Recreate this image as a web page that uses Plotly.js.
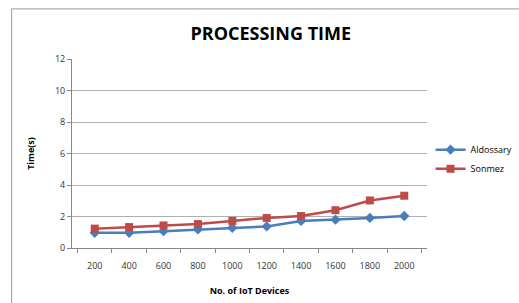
<!DOCTYPE html>
<html>
<head>
<meta charset="utf-8">
<script src="https://cdn.plot.ly/plotly-3.0.1.min.js"></script>
<style>html,body{margin:0;padding:0;background:#fff;}#chart{width:519px;height:303px;}</style>
</head>
<body>
<div id="chart"></div>
<script>
const devices = ["200","400","600","800","1000","1200","1400","1600","1800","2000"];
const aldossary = [0.97, 0.97, 1.07, 1.18, 1.29, 1.37, 1.72, 1.8, 1.91, 2.03];
const sonmez = [1.23, 1.33, 1.43, 1.52, 1.72, 1.91, 2.03, 2.4, 3.02, 3.32];

const traces = [
  {x: devices, y: aldossary, name: "Aldossary", type: "scatter", mode: "lines+markers",
   line: {color: "#4a7ebb", width: 2.5}, marker: {symbol: "diamond", size: 8, color: "#4a7ebb"}},
  {x: devices, y: sonmez, name: "Sonmez", type: "scatter", mode: "lines+markers",
   line: {color: "#be4b48", width: 2.5}, marker: {symbol: "square", size: 8, color: "#be4b48"}}
];

const layout = {
  width: 519, height: 303,
  margin: {l: 72, r: 92, t: 59, b: 55, autoexpand: false},
  paper_bgcolor: "#fff", plot_bgcolor: "#fff",
  font: {family: "Open Sans, sans-serif", color: "#333"},
  title: {text: "<b>PROCESSING TIME</b>", x: 0.56, xref: "paper", y: 0.89, yref: "container", yanchor: "middle",
          font: {size: 18, color: "#000", family: "Open Sans, sans-serif"}},
  xaxis: {type: "category", tickson: "boundaries", ticks: "outside", ticklen: 4, tickcolor: "#888",
          showline: true, linecolor: "#888", showgrid: false, zeroline: false, automargin: false,
          ticklabelstandoff: 9,
          tickfont: {size: 9, color: "#333"},
          title: {text: "<b>No. of IoT Devices</b>", font: {size: 9, color: "#000"}, standoff: 16}},
  yaxis: {range: [0, 12], dtick: 2, ticks: "outside", ticklen: 4, tickcolor: "#888",
          showline: true, linecolor: "#888", showgrid: true, gridcolor: "#b0b0b0", zeroline: false, automargin: false,
          tickfont: {size: 9, color: "#333"},
          title: {text: "<b>Time(s)</b>", font: {size: 9, color: "#000"}, standoff: 18}},
  legend: {x: 1.01, y: 0.47, xanchor: "left", yanchor: "middle", font: {size: 9, color: "#000"},
           tracegroupgap: 6, bgcolor: "rgba(0,0,0,0)", itemwidth: 30},
  shapes: [
    {type: "line", xref: "paper", yref: "paper", x0: -0.17, x1: 1.3, y0: 1.265, y1: 1.265, line: {color: "#999", width: 1}},
    {type: "line", xref: "paper", yref: "paper", x0: -0.17, x1: -0.17, y0: 1.265, y1: -0.3, line: {color: "#999", width: 1}}
  ]
};

Plotly.newPlot("chart", traces, layout, {displayModeBar: false, staticPlot: true});
</script>
</body>
</html>
